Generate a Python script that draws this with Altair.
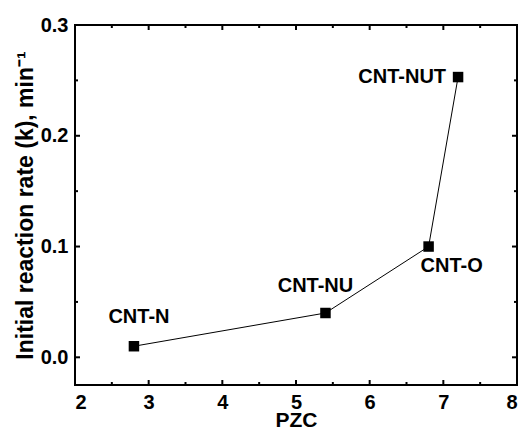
import altair as alt
import pandas as pd

# data
samples = ["CNT-N", "CNT-NU", "CNT-O", "CNT-NUT"]
pzc = [2.8, 5.4, 6.8, 7.2]
rate = [0.010, 0.040, 0.100, 0.253]

x_major = [2, 3, 4, 5, 6, 7, 8]
x_minor = [2.5, 3.5, 4.5, 5.5, 6.5, 7.5]
y_major = [0.0, 0.1, 0.2, 0.3]
y_minor = [0.05, 0.15, 0.25]

W, H = 442, 360
FONT = "Liberation Sans"

df = pd.DataFrame({"sample": samples, "pzc": pzc, "rate": rate})
xs = alt.Scale(domain=[2, 8], nice=False, zero=False)
ys = alt.Scale(domain=[-0.025, 0.3], nice=False, zero=False)

x_axis = alt.Axis(values=x_major, format="d", ticks=False, domain=False, grid=False,
                  labelFont=FONT, labelFontSize=20, labelFontWeight="bold", labelColor="black",
                  labelPadding=7, title="PZC", titleFont=FONT, titleFontSize=21,
                  titleFontWeight="bold", titleColor="black", titlePadding=-3)
y_axis = alt.Axis(values=y_major, format=".1f", ticks=False, domain=False, grid=False,
                  labelFont=FONT, labelFontSize=20, labelFontWeight="bold", labelColor="black",
                  labelPadding=7, title="Initial reaction rate (k), min⁻¹", titleFont=FONT,
                  titleFontSize=23, titleFontWeight="bold", titleColor="black", titlePadding=3)

base = alt.Chart(df)
line = base.mark_line(color="black", strokeWidth=1).encode(
    x=alt.X("pzc:Q", scale=xs, axis=x_axis),
    y=alt.Y("rate:Q", scale=ys, axis=y_axis),
)
pts = base.mark_point(shape="square", filled=True, color="black", size=110, opacity=1).encode(
    x=alt.X("pzc:Q", scale=xs, axis=x_axis), y=alt.Y("rate:Q", scale=ys, axis=y_axis)
)

def label(name, dx, dy, align="center"):
    return base.transform_filter(alt.datum.sample == name).mark_text(
        font=FONT, fontSize=20, fontWeight="bold", color="black",
        dx=dx, dy=dy, align=align, baseline="middle"
    ).encode(x=alt.X("pzc:Q", scale=xs, axis=x_axis),
             y=alt.Y("rate:Q", scale=ys, axis=y_axis), text="sample:N")

labels = [
    label("CNT-N", 5, -29),
    label("CNT-NU", -10, -27),
    label("CNT-O", 23, 19),
    label("CNT-NUT", -12, 0, "right"),
]

def xticks(vals, y0, y1):
    d = pd.DataFrame({"pzc": vals})
    return alt.Chart(d).mark_rule(color="black", strokeWidth=2).encode(
        x=alt.X("pzc:Q", scale=xs, axis=x_axis), y=alt.value(y0), y2=alt.value(y1))

def yticks(vals, x0, x1):
    d = pd.DataFrame({"rate": vals})
    return alt.Chart(d).mark_rule(color="black", strokeWidth=2).encode(
        y=alt.Y("rate:Q", scale=ys, axis=y_axis), x=alt.value(x0), x2=alt.value(x1))

ticks = [
    xticks(x_major, H, H - 5), xticks(x_minor, H, H - 3),
    xticks(x_major, 0, 5), xticks(x_minor, 0, 3),
    yticks(y_major, 0, 5), yticks(y_minor, 0, 3),
    yticks(y_major, W, W - 5), yticks(y_minor, W, W - 3),
]

chart = alt.layer(line, pts, *labels, *ticks).properties(
    width=W, height=H,
    autosize=alt.AutoSizeParams(type="none"),
    padding={"left": 67, "top": 17, "right": 1, "bottom": 44},
    background="white",
).configure_view(stroke="black", strokeWidth=2)

chart.save("out.html", embed_options={"renderer": "svg", "actions": False})
